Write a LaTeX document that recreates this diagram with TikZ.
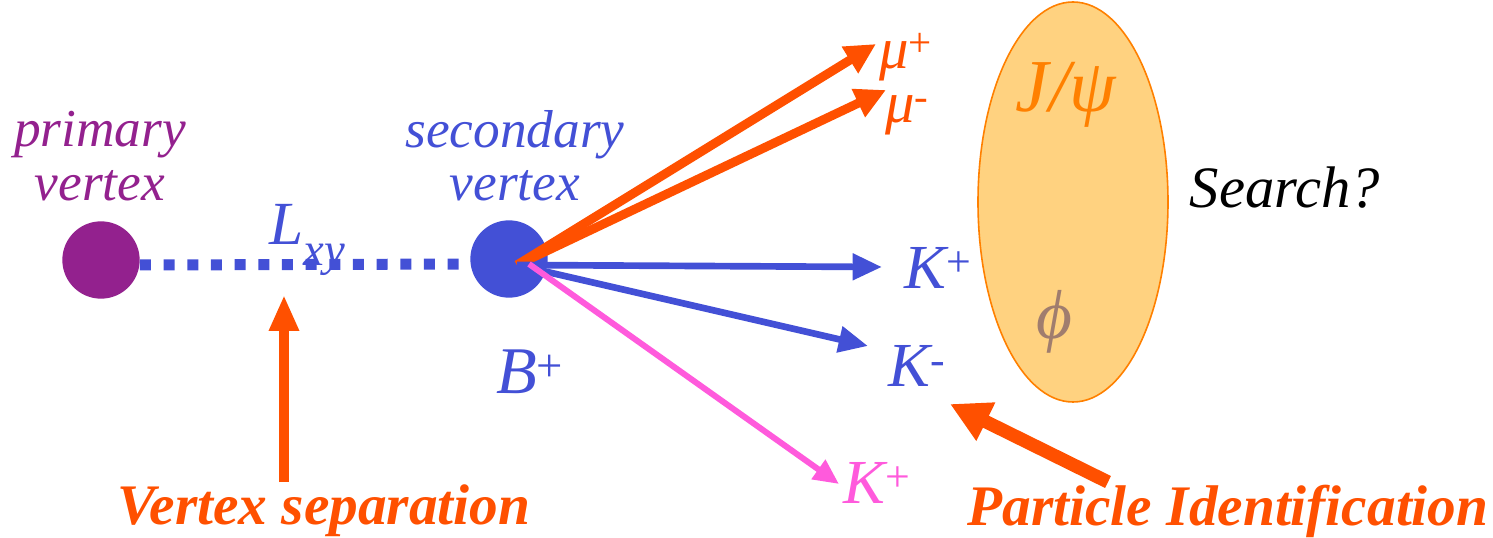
\documentclass[tikz,border=0pt]{standalone}
\usepackage{fontspec}
\setmainfont{Liberation Serif}
\usetikzlibrary{arrows.meta,shapes.geometric}
\definecolor{vtxpurple}{RGB}{147,33,142}
\definecolor{trkblue}{RGB}{67,80,214}
\definecolor{muorange}{RGB}{255,80,0}
\definecolor{kpink}{RGB}{255,90,220}
\definecolor{jpsiorange}{RGB}{255,128,0}
\definecolor{ellfill}{RGB}{255,210,128}
\definecolor{phibrown}{RGB}{160,125,110}
\newcommand{\bigit}[1]{\fontsize{#1}{#1}\selectfont\itshape}
\tikzset{
  vtx/.style={circle,inner sep=0pt,minimum size=58pt},
  lbl/.style={inner sep=0pt,font=\bigit{42}},
  klbl/.style={inner sep=0pt,font=\bigit{47}},
  trk/.style={line width=5pt,-{Triangle[length=22pt,width=19pt]}},
  mutrk/.style={muorange,line width=6.75pt,-{Triangle[length=23pt,width=22pt]}},
  callout/.style={muorange,-{Triangle[length=27pt,width=21pt]}},
  bigbold/.style={inner sep=0pt,text=muorange,font=\fontsize{43}{43}\selectfont\bfseries\itshape},
}
\begin{document}
\begin{tikzpicture}[x=0.75pt,y=-0.75pt]
  \useasboundingbox (0,0) rectangle (1493,538);
  % vertices
  \node[vtx,fill=vtxpurple] (pv) at (101,260) {};
  \node[vtx,fill=trkblue] (sv) at (509,259) {};
  \coordinate (dk) at ([shift={(8,6)}]sv.center);
  \draw[trkblue,line width=8.25pt,dash pattern=on 8.25pt off 9.5pt] (pv.east) ++(0,5) -- ([yshift=-3.75pt]sv.west);
  \node[lbl,font=\bigit{40},text=vtxpurple,align=center] (pvlbl) at (100,156) {primary\\vertex};
  \node[lbl,font=\bigit{40},text=trkblue,align=center] (svlbl) at (515,156) {secondary\\vertex};
  \node[lbl,font=\bigit{46},text=trkblue] (lxy) at (307,240) {L\raisebox{-0.35em}{\fontsize{35}{35}\selectfont xy}};
  \node[lbl,font=\bigit{50},text=trkblue] (bplus) at (530,372) {B\textsuperscript{\upshape +}};
  % the J/psi, phi region
  \node[ellipse,draw=jpsiorange,fill=ellfill,line width=1.2pt,minimum width=142.5pt,minimum height=300pt] (res) at (1073,202) {};
  \node[lbl,font=\bigit{56},text=jpsiorange] (jpsi) at (1066,95) {J/ψ};
  \node[lbl,font=\bigit{52},text=phibrown] (phi) at (1054,322) {ϕ};
  \node[lbl,font=\bigit{44}] (search) at (1285,188) {Search?};
  % daughters
  \node[lbl,font=\bigit{44},text=muorange] (mup) at (906,57) {μ\textsuperscript{\upshape +}};
  \node[lbl,font=\bigit{44},text=muorange] (mum) at (907,115) {μ\textsuperscript{\upshape -}};
  \node[klbl,text=trkblue] (kp) at (938,268) {K\textsuperscript{\upshape +}};
  \node[klbl,text=trkblue] (km) at (917,366) {K\textsuperscript{\upshape -}};
  \node[klbl,text=kpink] (kp2) at (877,483) {K\textsuperscript{\upshape +}};
  \coordinate (muptip) at (876,44);
  \coordinate (mumtip) at (886,90);
  \coordinate (kptip) at (882,267);
  \coordinate (kmtip) at (868,346);
  \coordinate (kp2tip) at (839,484);
  \draw[mutrk] (dk) -- (muptip);
  \draw[mutrk] (dk) -- (mumtip);
  \draw[trk,trkblue] (dk) -- (kptip);
  \draw[trk,trkblue] (dk) -- (kmtip);
  \draw[kpink,line width=4.5pt,-{Triangle[length=19pt,width=17pt]}] ([shift={(20,5)}]sv.center) -- (kp2tip);
  % callouts
  \node[bigbold] (vsep) at (324,511) {Vertex separation};
  \node[bigbold] (pid) at (1228,511) {Particle Identification};
  \coordinate (vsepfoot) at (284,482);
  \coordinate (vsephead) at (284,295);
  \coordinate (pidfoot) at (1108,482);
  \coordinate (pidhead) at (950,404);
  \draw[callout,line width=7.5pt] (vsepfoot) -- (vsephead);
  \draw[callout,line width=10pt,-{Triangle[length=30pt,width=30pt]}] (pidfoot) -- (pidhead);
\end{tikzpicture}
\end{document}
